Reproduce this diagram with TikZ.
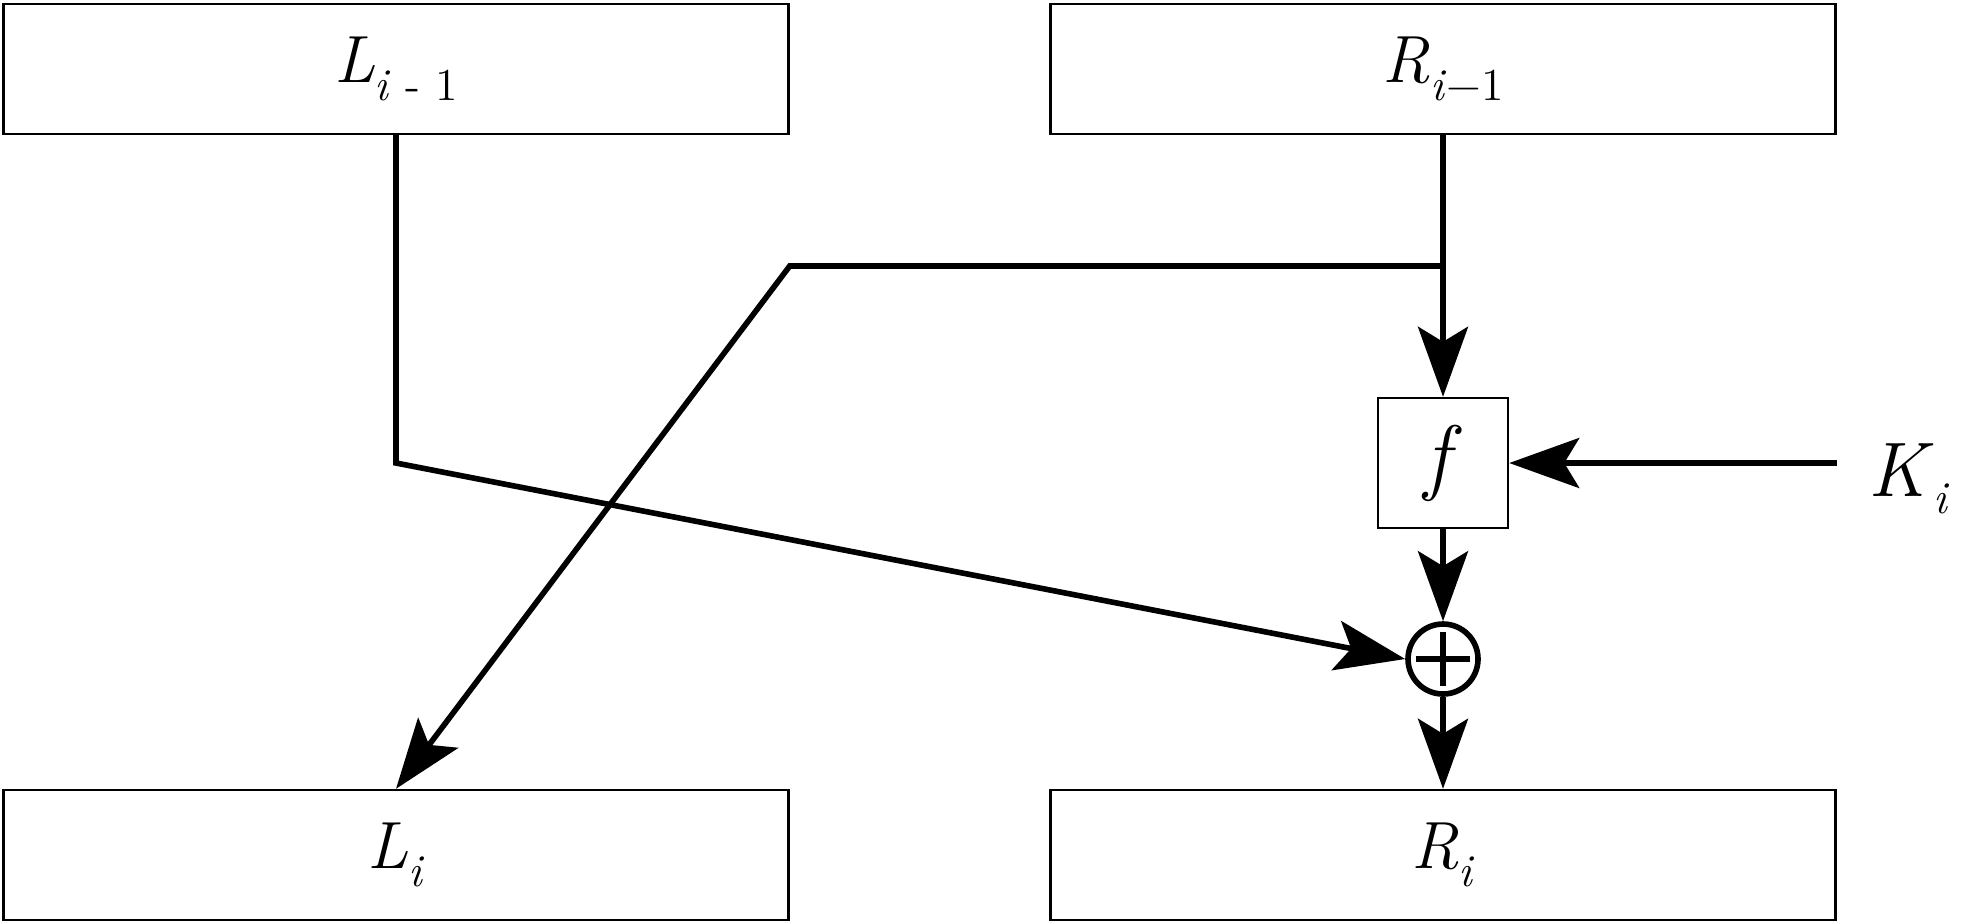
\documentclass[tikz,border=0pt]{standalone}
\usepackage{fontspec}
\usetikzlibrary{arrows.meta,positioning,calc}
\newcommand{\lbl}[2]{\textit{#1}\raisebox{-5pt}{\fontsize{13}{15}\selectfont #2}}
\tikzset{
block/.style={draw,line width=0.7pt,minimum width=78.5mm,minimum height=13mm,inner sep=0pt,font=\fontsize{19}{23}\selectfont},
fblock/.style={draw,line width=0.7pt,minimum width=13mm,minimum height=13mm,inner sep=0pt,font=\fontsize{24}{28}\selectfont},
xorop/.style={circle,draw,line width=1.6pt,minimum size=7mm,inner sep=0pt},
wire/.style={line width=1.6pt},
flow/.style={line width=1.6pt,-{Stealth[length=7mm,width=5mm,inset=1.5mm]}}
}
\begin{document}
\begin{tikzpicture}[x=0.1mm,y=-0.1mm]
\useasboundingbox (0,0) rectangle (1976,922);
\node[block] (Lprev) at (396,69) {\lbl{L}{\textit{i} - 1}};
\node[block] (Rprev) at (1443,69) {\lbl{R}{\textit{i}−1}};
\node[block] (Li) at (396,855) {\lbl{L}{\textit{i}}};
\node[block] (Ri) at (1443,855) {\lbl{R}{\textit{i}}};
\node[fblock] (f) at (1443,463) {\textit{f}};
\node[xorop] (xor) at (1443,659) {};
\draw[line width=1.6pt] (xor.center) +(0,-27) -- +(0,27) +(-27,0) -- +(27,0);
\node[anchor=base west,inner sep=0pt,font=\fontsize{22}{26}\selectfont] (key) at (1868,496) {\lbl{K}{\textit{i}}};
% junctions
\coordinate (split) at ($(Rprev.south)!0.5!(f.north)$);
\coordinate (bendR) at (split -| Lprev.east);
\coordinate (bendL) at (Lprev.south |- f.center);
% connectors
\draw[flow] (Rprev.south) -- (f.north);
\draw[flow] (split) -- (bendR) -- (Li.north);
\draw[flow] (Rprev.east |- f.east) -- (f.east);
\draw[flow] (f.south) -- (xor.north);
\draw[flow] (Lprev.south) -- (bendL) -- (xor.west);
\draw[flow] (xor.south) -- (Ri.north);
\end{tikzpicture}
\end{document}
